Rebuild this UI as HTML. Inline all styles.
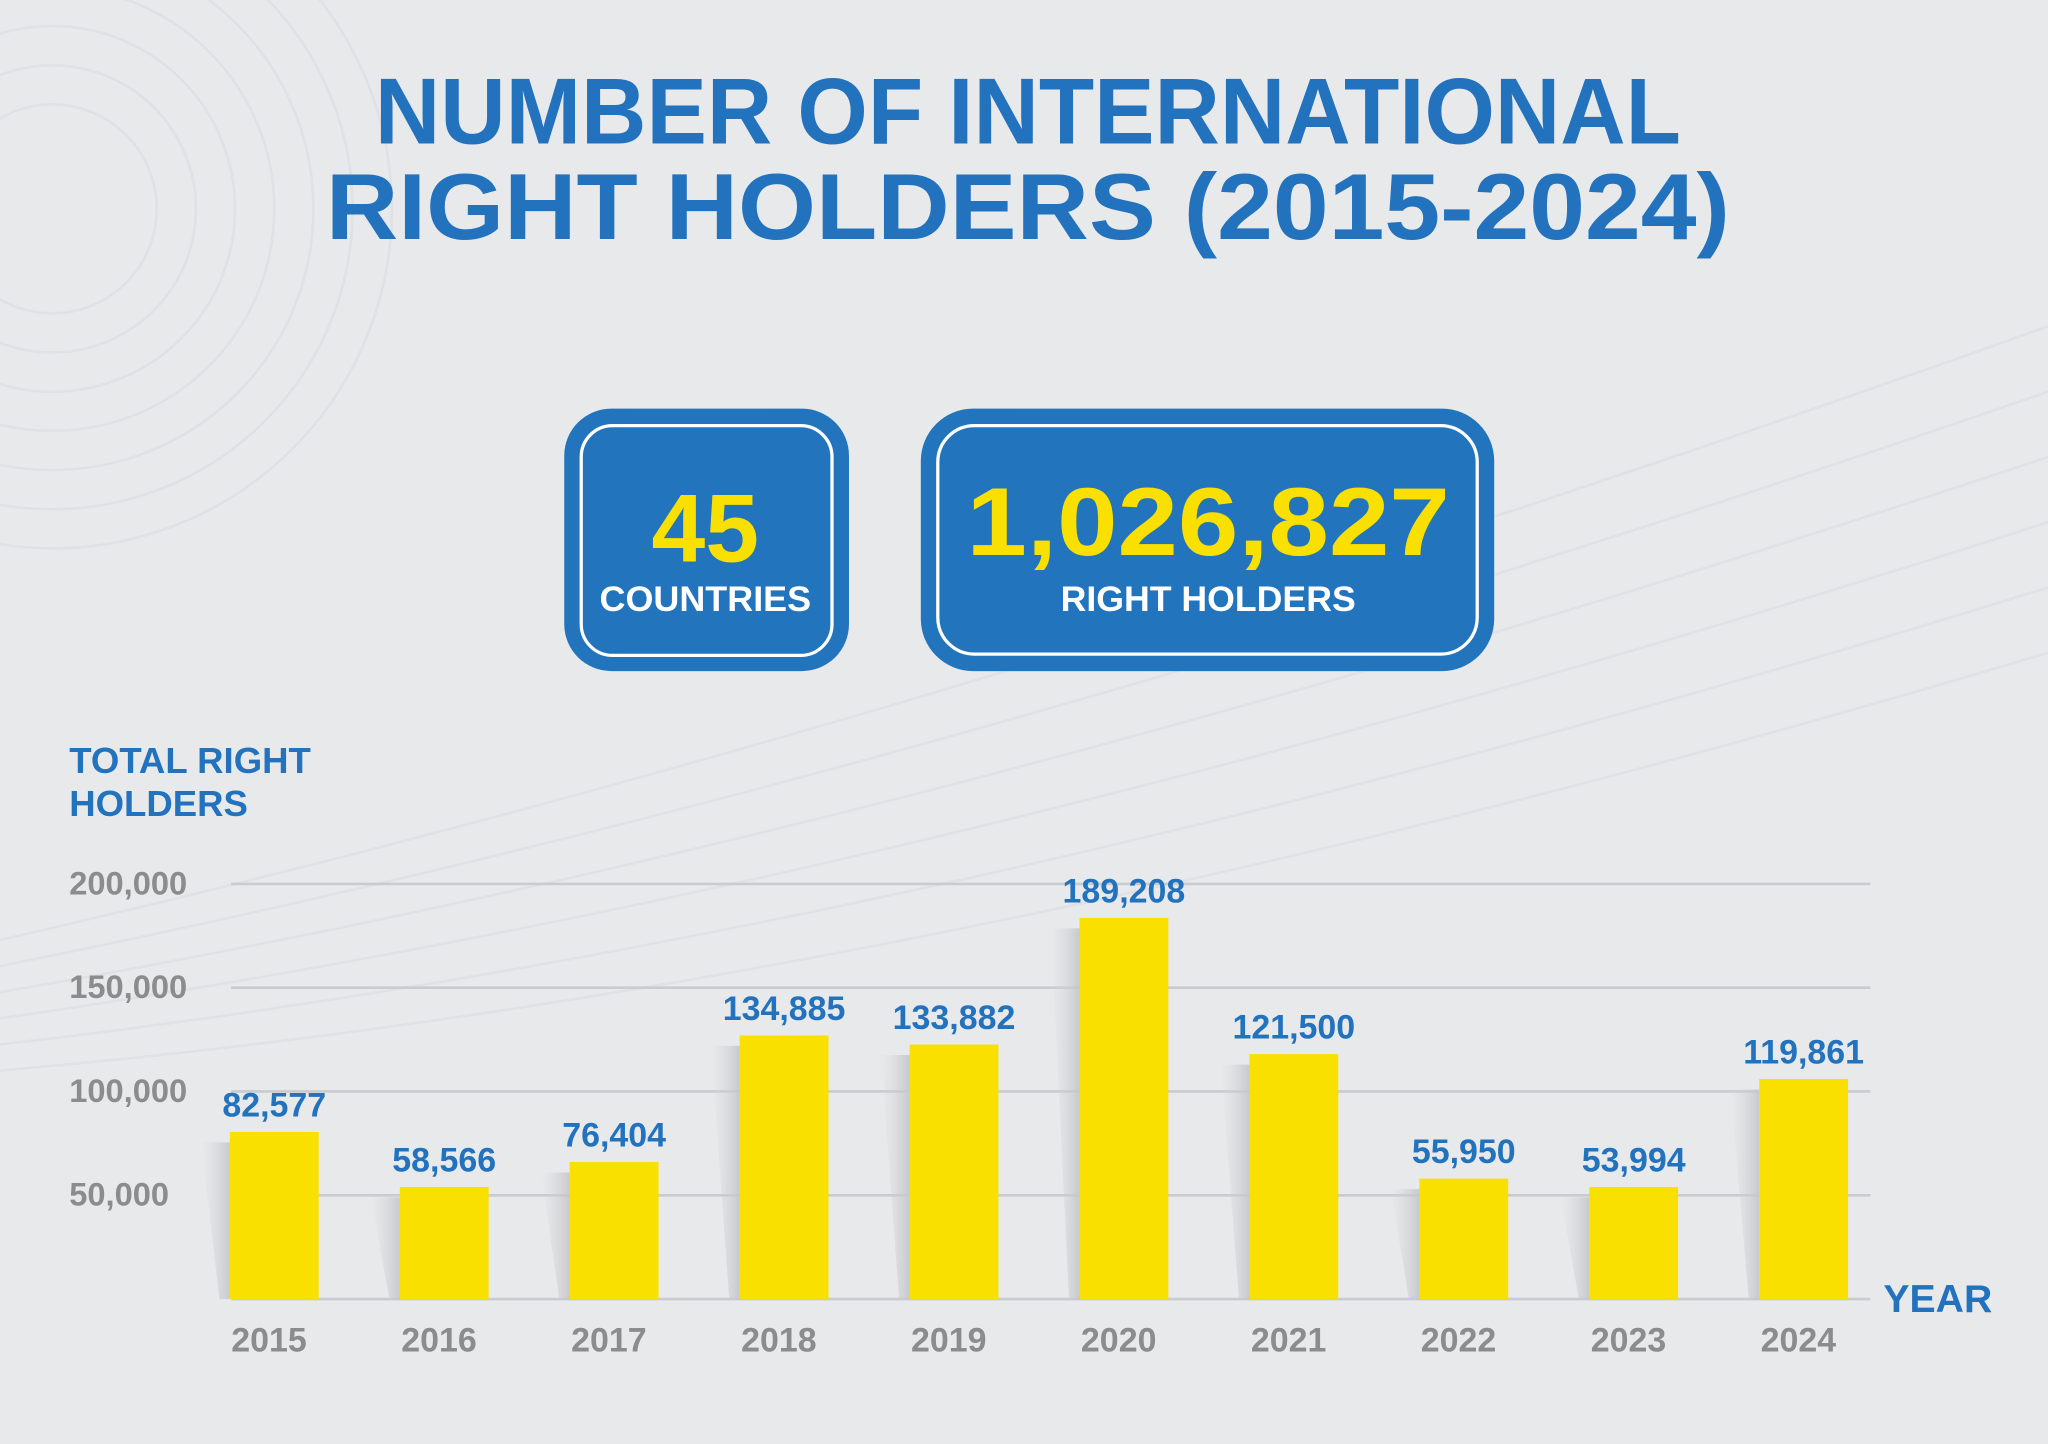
<!DOCTYPE html>
<html><head><meta charset="utf-8">
<style>
html,body{margin:0;padding:0;background:#e8e9eb;}
svg{display:block;}
text{font-family:"Liberation Sans",sans-serif;font-weight:bold;}
</style></head>
<body>
<svg id="chart" width="2048" height="1444" viewBox="0 0 1568 1106" preserveAspectRatio="none">
<defs>
<linearGradient id="sh" x1="0" x2="1" y1="0" y2="0">
<stop offset="0" stop-color="#d6d7da" stop-opacity="0"/>
<stop offset="1" stop-color="#c4c6c9" stop-opacity="0.9"/>
</linearGradient>
</defs>
<rect width="1568" height="1106" fill="#e8e9eb"/>
<g fill="none" stroke="#e0e1e4" stroke-width="2">
<circle cx="40" cy="160" r="80"/><circle cx="40" cy="160" r="110"/><circle cx="40" cy="160" r="140"/><circle cx="40" cy="160" r="170"/><circle cx="40" cy="160" r="200"/><circle cx="40" cy="160" r="230"/><circle cx="40" cy="160" r="260"/>
<path d="M0 720 Q700 560 1568 250"/><path d="M0 740 Q700 600 1568 300"/><path d="M0 760 Q700 640 1568 350"/><path d="M0 780 Q700 680 1568 400"/><path d="M0 800 Q700 720 1568 450"/><path d="M0 820 Q700 760 1568 500"/>
</g>
<text x="787" y="110" text-anchor="middle" font-size="72" fill="#2272bd" textLength="1000" lengthAdjust="spacingAndGlyphs">NUMBER OF INTERNATIONAL</text>
<text x="787" y="183" text-anchor="middle" font-size="72" fill="#2272bd" textLength="1075" lengthAdjust="spacingAndGlyphs">RIGHT HOLDERS (2015-2024)</text>

<g>
<rect x="432" y="313" width="218" height="201" rx="36" fill="#2274bd"/>
<rect x="445" y="326" width="192" height="176" rx="24" fill="none" stroke="#fff" stroke-width="2.5"/>
<text x="540" y="430" text-anchor="middle" font-size="74" fill="#f9e000">45</text>
<text x="540" y="468" text-anchor="middle" font-size="27" fill="#fff" textLength="162" lengthAdjust="spacingAndGlyphs">COUNTRIES</text>
</g>
<g>
<rect x="705" y="313" width="439" height="201" rx="40" fill="#2274bd"/>
<rect x="718" y="326" width="413" height="175" rx="28" fill="none" stroke="#fff" stroke-width="2.5"/>
<text x="925" y="425" text-anchor="middle" font-size="74" fill="#f9e000" textLength="370" lengthAdjust="spacingAndGlyphs">1,026,827</text>
<text x="925" y="468" text-anchor="middle" font-size="27" fill="#fff" textLength="226" lengthAdjust="spacingAndGlyphs">RIGHT HOLDERS</text>
</g>

<text x="53" y="592" font-size="28" fill="#2272bd">TOTAL RIGHT</text>
<text x="53" y="625" font-size="28" fill="#2272bd">HOLDERS</text>
<text x="1442" y="1005" font-size="30" fill="#2272bd">YEAR</text>
<g id="plot"></g>
</svg>
<script>
const years = ['2015','2016','2017','2018','2019','2020','2021','2022','2023','2024'];
const valueLabels = [82577,58566,76404,134885,133882,189208,121500,55950,53994,119861];
// bar heights as drawn in the picture (in right-holder units)
const barValues = [80500,54000,66000,127000,122600,183600,118000,58000,54000,106000];
const yTicks = [50000,100000,150000,200000];

const NS='http://www.w3.org/2000/svg';
const plot=document.getElementById('plot');
const y0=995, y1=677, vmax=200000;
function yScale(v){return y0-(v/vmax)*(y0-y1);}
function xScale(i){return 210+i*130.1;}
const bw=68;
function mk(tag,attrs){const e=document.createElementNS(NS,tag);for(const k in attrs)e.setAttribute(k,attrs[k]);plot.appendChild(e);return e;}

yTicks.concat([0]).forEach(t=>{
  const g=mk('line',{x1:177,x2:1432,y1:yScale(t),y2:yScale(t),stroke:'#c9cbce','stroke-width':2});
  
  
});
yTicks.forEach(t=>{
  const tx=mk('text',{x:53,y:yScale(t)+8,'font-size':25,fill:'#8c8c8c'});
  tx.textContent=t.toLocaleString('en-US');
  
  
});
barValues.forEach((v,i)=>{
  const cx=xScale(i), top=yScale(v), l=cx-bw/2;
  const sh=mk('polygon',{points:`${l-22},${top+8} ${l},${top+8} ${l},${y0} ${l-8},${y0}`,fill:'url(#sh)'});
  
  
  const b=mk('rect',{x:l,y:top,width:bw,height:y0-top,fill:'#f9e000'});
  
  
  const lab=mk('text',{x:cx,y:top-12,'text-anchor':'middle','font-size':26,fill:'#2272bd'});
  lab.textContent=valueLabels[i].toLocaleString('en-US');
  
  
  const yl=mk('text',{x:cx-4,y:1035,'text-anchor':'middle','font-size':26,fill:'#8c8c8c'});
  yl.textContent=years[i];
  
  
});
</script>
</body></html>
